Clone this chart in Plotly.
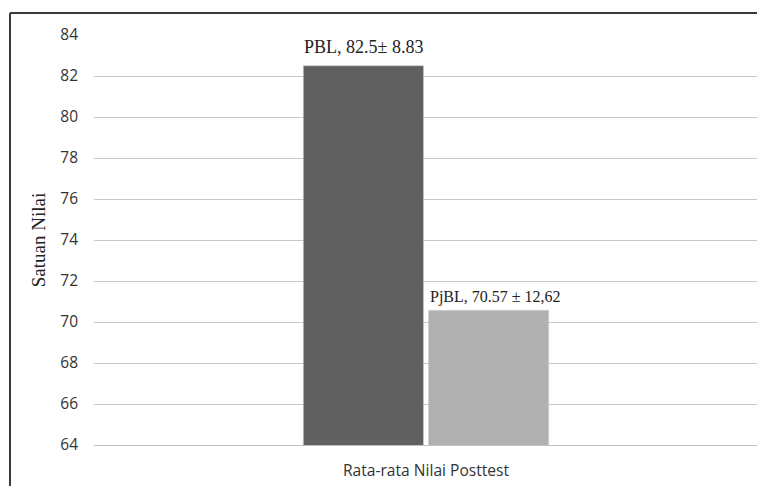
import plotly.graph_objects as go

categories = ["Rata-rata Nilai Posttest"]
series_names = ["PBL", "PjBL"]
means = [82.5, 70.57]
label_texts = ["PBL, 82.5\u00b1 8.83", "PjBL, 70.57 \u00b1 12,62"]
colors = ["#606060", "#b1b1b1"]
y_ticks = [64, 66, 68, 70, 72, 74, 76, 78, 80, 82, 84]

# styling for the value labels (not data)
label_sizes = [18, 16]
label_xshift = [-63, 69]
label_yshift = [19, 13]

# the page body adds an 8px offset; size the figure so screen coords match
OFF = 8
W, H = 765 - OFF, 486 - OFF
L, R, T, B = 94 - OFF, 7, 35 - OFF, 41
pw, ph = W - L - R, H - T - B
def px(xs):
    return (xs - OFF - L) / pw
def py(ys):
    return (H - B - (ys - OFF)) / ph

fig = go.Figure()
for name, m, c in zip(series_names, means, colors):
    fig.add_trace(go.Bar(
        x=categories, y=[m], name=name, marker_color=c,
        marker_line=dict(color="#d0d0d0", width=0.5),
        cliponaxis=False,
    ))

annotations = []
for m, lab, fs, xs, ys in zip(means, label_texts, label_sizes, label_xshift, label_yshift):
    annotations.append(dict(
        x=categories[0], y=m, xref="x", yref="y", text=lab, showarrow=False,
        xanchor="center", yanchor="middle", xshift=xs, yshift=ys,
        font=dict(family="Liberation Serif", size=fs, color="#222222"),
    ))

fig.update_layout(
    width=W, height=H,
    margin=dict(l=L, r=R, t=T, b=B, autoexpand=False),
    paper_bgcolor="white", plot_bgcolor="white",
    barmode="group", bargap=0.623, bargroupgap=0.04,
    showlegend=False,
    xaxis=dict(
        showgrid=False, showline=True, linecolor="#c0c0c0", linewidth=1,
        tickfont=dict(family="Open Sans", size=15.6, color="#333333"),
        ticks="", ticklabelstandoff=11, automargin=False,
    ),
    yaxis=dict(
        range=[64, 84], tickvals=y_ticks, ticktext=[str(v) for v in y_ticks],
        showgrid=True, gridcolor="#c8c8c8", gridwidth=1,
        zeroline=False, showline=False, automargin=False,
        tickfont=dict(family="Open Sans", size=15.5, color="#333333"),
        ticks="", ticklabelstandoff=15,
        title=dict(text="Satuan Nilai", font=dict(family="Liberation Serif, Times New Roman, serif", size=19, color="#222222"), standoff=9),
    ),
    annotations=annotations,
    shapes=[
        dict(type="line", xref="paper", yref="paper", x0=px(10), x1=px(765), y0=py(13), y1=py(13),
             line=dict(color="#3a3a3a", width=2)),
        dict(type="line", xref="paper", yref="paper", x0=px(10), x1=px(10), y0=py(13), y1=py(486),
             line=dict(color="#3a3a3a", width=2)),
    ],
)

fig.write_html("out.html")
